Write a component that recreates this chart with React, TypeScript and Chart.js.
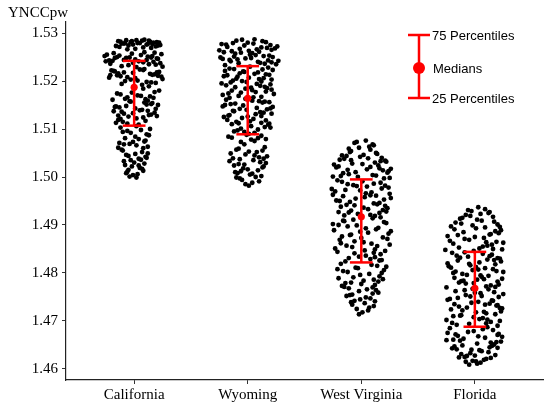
import React, { useEffect, useRef } from "react";
import { Chart, registerables } from "chart.js";

Chart.register(...registerables);

const categories = ["California", "Wyoming", "West Virginia", "Florida"];
const yTicks = [1.46, 1.47, 1.48, 1.49, 1.5, 1.51, 1.52, 1.53];

const q25 = [1.5107, 1.5089, 1.4822, 1.4688];
const medians = [1.5187, 1.5164, 1.4917, 1.4768];
const q75 = [1.5242, 1.5231, 1.4995, 1.4844];

const californiaY = [
  1.5283, 1.5279, 1.5285, 1.5276, 1.5281, 1.5272, 1.5284, 1.5278, 1.5269, 1.528,
  1.5274, 1.5286, 1.5277, 1.5282, 1.5267, 1.5279, 1.5273, 1.5284, 1.5276, 1.5281,
  1.527, 1.5278, 1.5283, 1.5275, 1.5266, 1.528, 1.5277, 1.5285, 1.5271, 1.5279,
  1.5274, 1.5282,
  1.5255, 1.5248, 1.5241, 1.5259, 1.5236, 1.5251, 1.5244, 1.523, 1.5257, 1.5239,
  1.5246, 1.5253, 1.5233, 1.5249, 1.5242, 1.526, 1.5237, 1.5252, 1.5245, 1.5231,
  1.5256, 1.524, 1.5248, 1.5235, 1.5254, 1.5243, 1.525, 1.5229, 1.5247, 1.5238,
  1.5258, 1.5244, 1.5234, 1.5252, 1.5241, 1.5249,
  1.5222, 1.5215, 1.5208, 1.5219, 1.5201, 1.5212, 1.5225, 1.5196, 1.521, 1.5217,
  1.5204, 1.5221, 1.5192, 1.5213, 1.5207, 1.5198, 1.5218, 1.5211, 1.5224, 1.5203,
  1.5216, 1.5189, 1.5209, 1.522, 1.52, 1.5214, 1.5194, 1.5206, 1.5223, 1.5212,
  1.5197, 1.5218,
  1.5184, 1.5172, 1.5165, 1.5158, 1.5151, 1.5146, 1.5139, 1.5132, 1.5127, 1.5119,
  1.5176, 1.5168, 1.5161, 1.5155, 1.5148, 1.5142, 1.5136, 1.5129, 1.5122, 1.5113,
  1.518, 1.517, 1.5163, 1.5154, 1.5145, 1.514, 1.5134, 1.5126, 1.5117, 1.5109,
  1.5174, 1.5166, 1.5159, 1.515, 1.5143, 1.5137, 1.513, 1.5124, 1.5115, 1.5177,
  1.5169, 1.5157, 1.5147, 1.5133, 1.5121, 1.5162, 1.5152, 1.5138, 1.5128, 1.5111,
  1.5103, 1.5098, 1.5092, 1.5087, 1.5081, 1.5076, 1.5071, 1.5066, 1.506, 1.5055,
  1.5049, 1.5044, 1.5038, 1.5033, 1.5028, 1.5022, 1.5017, 1.5011, 1.5006, 1.5001,
  1.51, 1.5094, 1.5084, 1.5073, 1.5063, 1.5057, 1.5046, 1.504, 1.503, 1.5019,
  1.5008, 1.4999, 1.5096, 1.5079, 1.5068, 1.5052, 1.5042, 1.5035, 1.5025, 1.5013,
  1.5004, 1.5089, 1.5074, 1.5061, 1.5048, 1.5036, 1.5024, 1.5015, 1.5106, 1.5069,
];
const californiaJitter = [
  -0.14, -0.08, 0.02, 0.11, -0.03, 0.19, 0.07, -0.11, 0.15, 0.22,
  -0.05, 0.09, 0.16, -0.12, 0.01, 0.05, -0.16, 0.13, -0.01, 0.2,
  0.08, -0.09, -0.02, 0.23, -0.06, 0.17, 0.12, -0.07, -0.13, 0.03,
  0.21, 0.14,
  -0.24, -0.17, 0.04, 0.18, -0.21, 0.12, -0.09, 0.25, -0.02, 0.08,
  0.21, -0.13, -0.05, 0.15, -0.19, 0.09, 0.23, -0.26, 0.01, -0.11,
  0.24, 0.17, -0.07, 0.13, 0.06, -0.22, -0.15, 0.02, 0.2, -0.01,
  -0.18, 0.11, 0.19, 0.16, -0.25, -0.04,
  -0.2, 0.14, -0.06, 0.22, 0.03, -0.15, 0.09, 0.19, -0.12, -0.01,
  0.25, -0.18, 0.07, 0.16, -0.22, 0.11, -0.09, 0.21, 0.05, -0.03,
  -0.14, 0.13, 0.24, -0.17, -0.08, 0.18, -0.11, 0.01, 0.08, -0.21,
  0.15, 0.2,
  0.08, -0.12, 0.17, -0.04, 0.11, -0.17, 0.05, -0.09, 0.2, -0.14,
  -0.02, 0.14, -0.19, 0.09, -0.07, 0.19, -0.11, 0.13, 0.02, -0.16,
  0.22, 0.03, -0.08, 0.16, -0.13, 0.07, 0.18, -0.05, 0.1, 0.04,
  -0.15, -0.06, 0.12, 0.21, 0.01, -0.18, 0.15, 0.08, -0.1, 0.18,
  0.06, -0.03, -0.16, -0.01, -0.12, 0.1, 0.15, 0.12, -0.14, -0.06,
  -0.12, 0.06, -0.03, 0.13, -0.08, 0.1, -0.13, 0.02, 0.08, -0.1,
  0.12, -0.05, 0.04, -0.09, 0.09, -0.02, 0.07, -0.06, 0.03, -0.04,
  0.14, -0.1, 0.01, -0.01, 0.12, -0.11, -0.07, 0.11, 0.0, 0.05,
  -0.07, 0.02, -0.06, 0.04, -0.09, 0.07, 0.1, -0.03, -0.08, 0.08,
  -0.01, 0.11, 0.09, -0.14, 0.01, 0.06, 0.04, -0.05, 0.02, -0.04,
];

const wyomingY = [
  1.5284, 1.5278, 1.5271, 1.5265, 1.5259, 1.5252, 1.5246, 1.524, 1.5235, 1.5281,
  1.5274, 1.5268, 1.5262, 1.5255, 1.5249, 1.5243, 1.5237, 1.5287, 1.5276, 1.527,
  1.5263, 1.5257, 1.525, 1.5244, 1.5238, 1.5233, 1.5279, 1.5272, 1.5266, 1.526,
  1.5253, 1.5247, 1.5241, 1.5236, 1.5283, 1.5275, 1.5267, 1.5258, 1.5251, 1.5242,
  1.5286, 1.5277, 1.5269, 1.5261, 1.5254, 1.5245, 1.5239, 1.528, 1.5264, 1.5248,
  1.5228, 1.5221, 1.5215, 1.5209, 1.5203, 1.5197, 1.519, 1.5184, 1.5178, 1.5171,
  1.5225, 1.5218, 1.5212, 1.5206, 1.52, 1.5193, 1.5187, 1.5181, 1.5174, 1.5167,
  1.523, 1.5223, 1.5216, 1.521, 1.5204, 1.5198, 1.5191, 1.5185, 1.5177, 1.5169,
  1.5226, 1.5219, 1.5213, 1.5207, 1.5201, 1.5194, 1.5188, 1.518, 1.5173, 1.5166,
  1.5224, 1.5214, 1.5205, 1.5195, 1.5186, 1.5176, 1.522, 1.5199, 1.5182, 1.5165,
  1.5161, 1.5155, 1.5149, 1.5143, 1.5137, 1.5131, 1.5125, 1.5118, 1.5112, 1.5106,
  1.5158, 1.5152, 1.5146, 1.514, 1.5134, 1.5128, 1.5121, 1.5115, 1.5109, 1.5101,
  1.5163, 1.5156, 1.515, 1.5144, 1.5138, 1.5132, 1.5126, 1.5119, 1.5113, 1.5104,
  1.5097, 1.5092, 1.5159, 1.5147, 1.5135, 1.5123, 1.511, 1.5099, 1.5153, 1.5141,
  1.5129, 1.5116, 1.5103, 1.5094, 1.5157, 1.5142, 1.5127, 1.5111, 1.5095, 1.509,
  1.5086, 1.5082, 1.5078, 1.5073, 1.5062, 1.5057, 1.5052, 1.5047, 1.5043, 1.5039,
  1.5035, 1.5031, 1.5027, 1.5022, 1.5018, 1.5014, 1.501, 1.5005, 1.5, 1.4994,
  1.4988, 1.4982, 1.5084, 1.5079, 1.5068, 1.5055, 1.5049, 1.5041, 1.5037, 1.5029,
  1.5024, 1.5016, 1.5008, 1.5002, 1.4991, 1.5088, 1.5075, 1.5059, 1.5045, 1.5033,
  1.502, 1.5012, 1.4997, 1.4985, 1.5081, 1.5053, 1.5038, 1.5026, 1.5007, 1.4999,
];
const wyomingJitter = [
  -0.1, 0.05, -0.18, 0.21, -0.06, 0.14, -0.22, 0.09, 0.25, 0.16,
  -0.03, 0.24, -0.14, 0.02, -0.24, 0.18, -0.08, 0.06, -0.19, 0.12,
  0.01, -0.11, 0.22, -0.16, 0.11, -0.2, -0.13, 0.26, 0.08, -0.21,
  0.19, -0.02, -0.15, 0.15, 0.13, 0.2, -0.07, 0.04, -0.12, 0.27,
  -0.05, -0.23, 0.17, 0.1, 0.07, -0.09, 0.21, 0.0, -0.25, 0.03,
  0.18, -0.2, 0.06, -0.09, 0.21, -0.15, 0.11, -0.02, 0.16, -0.22,
  -0.12, 0.09, -0.18, 0.14, -0.05, 0.2, -0.11, 0.04, -0.17, 0.12,
  0.02, 0.22, -0.07, -0.21, 0.1, -0.01, -0.19, 0.17, 0.07, -0.08,
  -0.16, -0.03, 0.19, 0.01, -0.13, 0.08, 0.15, -0.14, 0.23, 0.05,
  0.13, 0.16, -0.1, -0.23, 0.03, -0.06, -0.04, 0.12, 0.21, -0.16,
  -0.19, 0.13, -0.04, 0.2, -0.12, 0.07, -0.21, 0.16, -0.08, 0.03,
  0.1, -0.15, 0.22, -0.01, 0.14, -0.17, 0.05, -0.1, 0.18, -0.06,
  -0.02, 0.19, -0.2, 0.08, -0.13, 0.21, 0.0, -0.18, 0.12, 0.15,
  -0.09, 0.06, 0.04, -0.22, 0.11, -0.05, -0.14, 0.09, -0.11, 0.17,
  -0.16, 0.02, 0.2, -0.03, 0.15, -0.07, 0.12, 0.19, -0.12, 0.01,
  0.12, -0.14, 0.03, -0.06, 0.15, -0.1, 0.08, -0.02, 0.17, -0.13,
  0.05, 0.11, -0.08, 0.14, -0.04, 0.09, -0.11, 0.02, 0.07, -0.05,
  0.04, 0.01, -0.17, 0.16, -0.03, 0.13, -0.15, 0.1, -0.07, 0.16,
  -0.12, 0.0, -0.09, 0.12, 0.1, -0.01, 0.06, -0.08, 0.06, -0.16,
  0.13, -0.06, -0.07, -0.02, 0.09, 0.01, 0.14, -0.03, 0.04, -0.1,
];

const westVirginiaY = [
  1.5076, 1.5071, 1.5066, 1.5061, 1.5057, 1.5052, 1.5048, 1.5044, 1.504, 1.5036,
  1.5032, 1.5028, 1.5024, 1.502, 1.5016, 1.5012, 1.5008, 1.5004, 1.5, 1.4997,
  1.5073, 1.5063, 1.5054, 1.5046, 1.5038, 1.503, 1.5022, 1.5014, 1.5006, 1.4998,
  1.5068, 1.505, 1.5042, 1.5034, 1.5026, 1.5018, 1.501, 1.5002, 1.5059, 1.5039,
  1.5027, 1.5015, 1.5003, 1.5045, 1.5033, 1.5021, 1.5009, 1.5035, 1.5017, 1.5001,
  1.4993, 1.4988, 1.4983, 1.4978, 1.4973, 1.4968, 1.4963, 1.4958, 1.4953, 1.4948,
  1.4943, 1.4938, 1.4933, 1.4928, 1.4923, 1.4919, 1.4991, 1.4985, 1.4976, 1.497,
  1.4965, 1.4955, 1.495, 1.4945, 1.4935, 1.493, 1.4925, 1.492, 1.499, 1.498,
  1.4972, 1.4961, 1.4951, 1.4941, 1.4931, 1.4921, 1.4986, 1.4975, 1.4966, 1.4956,
  1.4946, 1.4936, 1.4926, 1.4981, 1.496, 1.494, 1.4982, 1.4962, 1.4942, 1.4927,
  1.4914, 1.4909, 1.4904, 1.4899, 1.4894, 1.4889, 1.4884, 1.4879, 1.4874, 1.4869,
  1.4864, 1.4859, 1.4854, 1.4849, 1.4844, 1.4839, 1.4834, 1.4829, 1.4824, 1.4911,
  1.4906, 1.4897, 1.4891, 1.4882, 1.4876, 1.4866, 1.4861, 1.4851, 1.4846, 1.4836,
  1.4831, 1.4826, 1.4902, 1.4893, 1.4886, 1.4871, 1.4857, 1.4842, 1.4827, 1.4916,
  1.49, 1.4887, 1.4873, 1.4856, 1.4841, 1.4908, 1.488, 1.4862, 1.4847, 1.4833,
  1.4819, 1.4815, 1.4811, 1.4806, 1.4802, 1.4798, 1.4793, 1.4789, 1.4784, 1.478,
  1.4775, 1.4771, 1.4766, 1.4762, 1.4757, 1.4752, 1.4747, 1.4742, 1.4737, 1.4731,
  1.4725, 1.4718, 1.4817, 1.4808, 1.48, 1.4791, 1.4782, 1.4773, 1.4764, 1.4754,
  1.4745, 1.4734, 1.4722, 1.4813, 1.4796, 1.4786, 1.4777, 1.4768, 1.4759, 1.4749,
  1.4739, 1.4728, 1.4714, 1.4804, 1.4787, 1.477, 1.4755, 1.4741, 1.481, 1.4779,
];
const westVirginiaJitter = [
  0.04, -0.06, 0.11, -0.02, 0.08, -0.1, 0.14, -0.13, 0.18, -0.19,
  0.22, -0.08, 0.15, -0.22, 0.05, 0.24, -0.16, 0.1, -0.03, 0.2,
  -0.04, 0.07, -0.09, 0.02, -0.15, 0.12, -0.2, 0.19, -0.11, 0.25,
  0.1, 0.13, -0.01, 0.21, -0.24, 0.16, -0.05, -0.18, -0.11, 0.06,
  0.01, -0.12, 0.13, -0.17, 0.17, 0.08, 0.23, -0.09, 0.26, -0.25,
  -0.21, 0.17, -0.07, 0.24, -0.14, 0.09, -0.25, 0.03, 0.2, -0.1,
  0.14, -0.18, 0.06, 0.22, -0.03, 0.12, 0.01, -0.12, 0.18, -0.23,
  0.25, -0.05, -0.19, 0.11, 0.23, -0.09, 0.16, -0.15, -0.17, 0.05,
  -0.01, 0.13, -0.22, -0.06, 0.19, 0.08, 0.11, -0.26, 0.04, 0.26,
  0.16, 0.02, -0.11, -0.04, -0.16, 0.21, 0.21, 0.08, -0.13, -0.2,
  0.1, -0.16, 0.22, -0.04, 0.15, -0.24, 0.06, -0.1, 0.19, -0.19,
  0.02, 0.25, -0.08, 0.12, -0.21, 0.17, -0.02, 0.08, -0.14, -0.07,
  0.2, -0.12, 0.13, 0.24, -0.17, -0.06, 0.09, -0.23, 0.21, 0.04,
  -0.11, 0.16, -0.25, 0.04, -0.01, 0.23, -0.13, 0.11, 0.18, 0.17,
  -0.2, 0.26, 0.0, 0.14, -0.06, -0.15, -0.09, -0.18, 0.03, 0.12,
  -0.18, 0.14, -0.05, 0.2, -0.12, 0.07, 0.16, -0.2, 0.02, -0.09,
  0.12, -0.15, 0.05, -0.02, 0.1, -0.13, 0.08, -0.06, 0.03, 0.11,
  -0.04, 0.01, 0.09, -0.21, 0.18, -0.07, 0.15, -0.17, 0.13, -0.1,
  -0.01, -0.08, 0.06, 0.22, -0.01, 0.11, 0.0, -0.11, 0.15, 0.04,
  -0.09, 0.07, -0.02, -0.16, 0.19, 0.1, -0.08, 0.12, -0.03, -0.14,
];

const floridaY = [
  1.4937, 1.4933, 1.4929, 1.4925, 1.4921, 1.4917, 1.4913, 1.4909, 1.4905, 1.4901,
  1.4897, 1.4893, 1.4889, 1.4885, 1.4881, 1.4877, 1.4873, 1.4869, 1.4865, 1.4861,
  1.4857, 1.4853, 1.4849, 1.4846, 1.4931, 1.4923, 1.4915, 1.4907, 1.4899, 1.4891,
  1.4883, 1.4875, 1.4867, 1.4859, 1.4851, 1.4927, 1.4911, 1.4895, 1.4879, 1.4863,
  1.4848, 1.4919, 1.4903, 1.4887, 1.4871, 1.4855, 1.4896, 1.488, 1.4864, 1.485,
  1.4842, 1.4838, 1.4834, 1.483, 1.4826, 1.4822, 1.4818, 1.4814, 1.481, 1.4806,
  1.4802, 1.4798, 1.4794, 1.479, 1.4786, 1.4782, 1.4778, 1.4774, 1.477, 1.484,
  1.4832, 1.4824, 1.4816, 1.4808, 1.48, 1.4792, 1.4784, 1.4776, 1.4836, 1.4828,
  1.482, 1.4812, 1.4804, 1.4796, 1.4788, 1.478, 1.4772, 1.4843, 1.4827, 1.4811,
  1.4795, 1.4779, 1.4835, 1.4819, 1.4803, 1.4787, 1.4771, 1.4831, 1.4807, 1.4783,
  1.4766, 1.4762, 1.4758, 1.4754, 1.475, 1.4746, 1.4742, 1.4738, 1.4734, 1.473,
  1.4726, 1.4722, 1.4718, 1.4714, 1.471, 1.4706, 1.4702, 1.4698, 1.4694, 1.469,
  1.4764, 1.4756, 1.4748, 1.474, 1.4732, 1.4724, 1.4716, 1.4708, 1.47, 1.4692,
  1.476, 1.4752, 1.4744, 1.4736, 1.4728, 1.472, 1.4712, 1.4704, 1.4696, 1.4767,
  1.4751, 1.4735, 1.4719, 1.4703, 1.4759, 1.4743, 1.4727, 1.4711, 1.4695, 1.4733,
  1.4685, 1.4681, 1.4677, 1.4673, 1.4669, 1.4665, 1.4661, 1.4657, 1.4653, 1.4649,
  1.4645, 1.4641, 1.4637, 1.4633, 1.4629, 1.4625, 1.4621, 1.4617, 1.4613, 1.4609,
  1.4683, 1.4675, 1.4667, 1.4659, 1.4651, 1.4643, 1.4635, 1.4627, 1.4619, 1.4611,
  1.4679, 1.4671, 1.4663, 1.4655, 1.4647, 1.4639, 1.4631, 1.4623, 1.4615, 1.4687,
  1.466, 1.4644, 1.4628, 1.4616, 1.4672, 1.4656, 1.464, 1.4624, 1.4668, 1.4648,
];
const floridaJitter = [
  0.03, 0.09, -0.03, 0.12, -0.08, 0.16, -0.13, 0.06, -0.17, 0.2,
  -0.21, 0.01, 0.23, -0.1, 0.14, -0.24, 0.08, -0.05, 0.19, -0.19,
  0.11, -0.14, 0.24, -0.01, -0.06, 0.05, -0.11, 0.17, -0.02, -0.18,
  0.21, 0.0, -0.22, 0.15, 0.04, 0.13, 0.02, 0.09, -0.15, 0.25,
  -0.26, -0.04, -0.12, 0.18, -0.09, 0.07, 0.22, 0.13, 0.1, 0.16,
  -0.2, 0.15, -0.06, 0.22, -0.15, 0.04, 0.18, -0.23, 0.09, -0.02,
  0.25, -0.11, 0.12, -0.18, 0.02, 0.2, -0.08, 0.14, -0.25, 0.07,
  -0.13, 0.23, -0.04, 0.16, -0.19, 0.06, -0.1, 0.21, -0.16, 0.11,
  -0.24, 0.01, 0.19, -0.07, 0.24, -0.14, 0.1, -0.09, 0.17, -0.21,
  0.05, -0.01, 0.13, -0.05, -0.17, 0.08, 0.18, 0.2, 0.03, -0.12,
  0.12, -0.17, 0.05, -0.08, 0.21, -0.22, 0.16, -0.03, 0.09, -0.14,
  0.24, -0.11, 0.01, 0.18, -0.19, 0.07, -0.25, 0.14, -0.05, 0.2,
  -0.09, 0.25, -0.15, 0.03, 0.19, -0.21, 0.1, -0.01, 0.22, -0.16,
  0.17, 0.06, -0.24, 0.13, -0.07, 0.23, -0.12, 0.04, -0.2, -0.02,
  -0.04, -0.18, 0.08, 0.11, 0.0, 0.15, 0.22, -0.13, 0.1, 0.2,
  -0.22, 0.16, -0.06, 0.21, -0.15, 0.09, -0.19, 0.23, 0.02, -0.11,
  0.13, -0.16, 0.06, -0.04, 0.18, -0.09, 0.1, -0.02, 0.05, -0.05,
  0.07, -0.24, 0.24, -0.13, 0.17, -0.2, 0.12, -0.07, 0.08, 0.02,
  -0.01, 0.2, -0.1, 0.14, -0.18, 0.04, -0.12, 0.14, -0.08, 0.11,
  -0.25, 0.2, 0.0, 0.01, -0.17, 0.19, -0.03, -0.14, 0.03, 0.15,
];

const groupValues = [californiaY, wyomingY, westVirginiaY, floridaY];
const groupJitter = [californiaJitter, wyomingJitter, westVirginiaJitter, floridaJitter];

const RED = "#ff0000";
const CAP_HALF = 0.1;
const SERIF = "'Liberation Serif', 'Times New Roman', serif";
const SANS = "'Liberation Sans', Arial, Helvetica, sans-serif";

const overlayPlugin = {
  id: "overlay",
  afterDraw(chart: any) {
    const ctx = chart.ctx;
    ctx.save();
    // axis title
    ctx.fillStyle = "#000";
    ctx.font = `15px ${SERIF}`;
    ctx.textAlign = "left";
    ctx.textBaseline = "middle";
    ctx.fillText("YNCCpw", 8, 13);

    // legend
    const lx = 419;
    const top = 35;
    const bottom = 98;
    const mid = 68;
    ctx.strokeStyle = RED;
    ctx.lineWidth = 2.5;
    ctx.beginPath();
    ctx.moveTo(lx, top);
    ctx.lineTo(lx, bottom);
    ctx.moveTo(lx - 11, top);
    ctx.lineTo(lx + 11, top);
    ctx.moveTo(lx - 11, bottom);
    ctx.lineTo(lx + 11, bottom);
    ctx.stroke();
    ctx.fillStyle = RED;
    ctx.beginPath();
    ctx.arc(lx, mid, 6, 0, Math.PI * 2);
    ctx.fill();

    ctx.fillStyle = "#000";
    ctx.font = `13px ${SANS}`;
    ctx.fillText("75 Percentiles", 432, top + 1);
    ctx.fillText("Medians", 433, mid + 1);
    ctx.fillText("25 Percentiles", 432, bottom + 1);
    ctx.restore();
  },
};

export default function App() {
  const canvasRef = useRef<HTMLCanvasElement | null>(null);

  useEffect(() => {
    const canvas = canvasRef.current;
    if (!canvas) return;

    const pointSets = groupValues.map((ys, i) => ({
      type: "scatter" as const,
      data: ys.map((y, k) => ({ x: i + 1 + groupJitter[i][k], y })),
      pointRadius: 2.4,
      pointHoverRadius: 2.4,
      backgroundColor: "#000",
      borderWidth: 0,
      order: 3,
    }));

    const lineStyle = {
      type: "scatter" as const,
      showLine: true,
      borderColor: RED,
      borderWidth: 2.5,
      pointRadius: 0,
      pointHoverRadius: 0,
      order: 1,
    };

    const whiskers = categories.map((_, i) => ({
      ...lineStyle,
      data: [
        { x: i + 1, y: q25[i] },
        { x: i + 1, y: q75[i] },
      ],
    }));
    const upperCaps = categories.map((_, i) => ({
      ...lineStyle,
      data: [
        { x: i + 1 - CAP_HALF, y: q75[i] },
        { x: i + 1 + CAP_HALF, y: q75[i] },
      ],
    }));
    const lowerCaps = categories.map((_, i) => ({
      ...lineStyle,
      data: [
        { x: i + 1 - CAP_HALF, y: q25[i] },
        { x: i + 1 + CAP_HALF, y: q25[i] },
      ],
    }));
    const medianSet = {
      type: "scatter" as const,
      data: medians.map((m, i) => ({ x: i + 1, y: m })),
      pointRadius: 3.6,
      pointHoverRadius: 3.6,
      backgroundColor: RED,
      borderWidth: 0,
      order: 0,
    };

    const chart = new Chart(canvas, {
      type: "scatter",
      data: {
        datasets: [medianSet, ...whiskers, ...upperCaps, ...lowerCaps, ...pointSets] as any,
      },
      options: {
        responsive: false,
        animation: false,
        events: [],
        layout: { padding: { top: 22, right: 7, left: 0, bottom: 0 } },
        plugins: {
          legend: { display: false },
          tooltip: { enabled: false },
        },
        scales: {
          x: {
            type: "linear",
            min: 0.4,
            max: 4.6,
            afterBuildTicks: (scale: any) => {
              scale.ticks = categories.map((_, i) => ({ value: i + 1 }));
            },
            afterFit: (scale: any) => {
              scale.height = 26;
            },
            grid: {
              display: true,
              drawOnChartArea: false,
              drawTicks: true,
              tickLength: 4,
              color: "#333",
            },
            border: { display: true, color: "#222", width: 1.2 },
            ticks: {
              autoSkip: false,
              maxRotation: 0,
              padding: 2,
              color: "#000",
              font: { family: SERIF, size: 15 },
              callback: (v: any) => categories[Number(v) - 1] ?? "",
            },
          },
          y: {
            type: "linear",
            min: 1.4577,
            max: 1.5323,
            afterBuildTicks: (scale: any) => {
              scale.ticks = yTicks.map((v) => ({ value: v }));
            },
            afterFit: (scale: any) => {
              scale.width = 66;
            },
            grid: {
              display: true,
              drawOnChartArea: false,
              drawTicks: true,
              tickLength: 4,
              color: "#333",
            },
            border: { display: true, color: "#222", width: 1.2 },
            ticks: {
              padding: 4,
              color: "#000",
              font: { family: SERIF, size: 15 },
              callback: (v: any) => Number(v).toFixed(2),
            },
          },
        },
      },
      plugins: [overlayPlugin],
    });

    return () => chart.destroy();
  }, []);

  return (
    <div style={{ position: "absolute", left: 0, top: 0, width: 550, height: 406, background: "#fff" }}>
      <canvas ref={canvasRef} width={550} height={406} style={{ display: "block" }} />
    </div>
  );
}
